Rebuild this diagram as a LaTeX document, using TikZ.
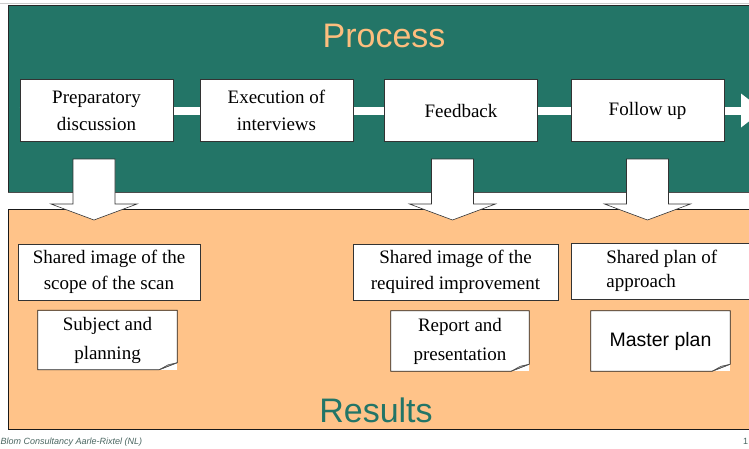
\documentclass[tikz,border=0pt]{standalone}
\usepackage{fontspec}
\setmainfont{Liberation Serif}
\setsansfont{Liberation Sans}
\definecolor{tealbg}{HTML}{237567}
\definecolor{orangebg}{HTML}{FFC389}
\definecolor{proctext}{HTML}{FDBE7E}
\definecolor{footgray}{HTML}{4A6661}
\begin{document}
\begin{tikzpicture}[x=1pt,y=-1pt,
  pbox/.style={draw=black!80, fill=white, line width=0.7pt, minimum width=153pt, minimum height=62pt,
    inner sep=0pt, align=center, font=\fontsize{19}{27}\selectfont},
  rbox/.style={draw=black!80, fill=white, line width=0.7pt, inner sep=0pt, align=center,
    font=\fontsize{19}{26.5}\selectfont},
  notebox/.style={fill=white, minimum width=139pt, minimum height=59pt, inner sep=0pt, align=center,
    font=\fontsize{19}{29}\selectfont},
  downarrow/.style={fill=white, draw=black!80, line width=0.6pt},
  title/.style={font=\sffamily\fontsize{34}{40}\selectfont, inner sep=0pt}
]
\useasboundingbox (0,0) rectangle (749,448);
\clip (0,0) rectangle (749,448);
\fill[white] (0,0) rectangle (749,448);
% top rule
\draw[black!20, line width=0.6pt] (0,3) -- (749,3);
% process panel
\fill[tealbg] (8,5) rectangle (770,193);
\draw[black!85, line width=0.9pt] (770,5) -- (8,5) -- (8,193);
\draw[black!70, line width=1.4pt] (8,192.5) -- (770,192.5);
% results panel
\fill[orangebg] (8,209) rectangle (770,429);
\draw[black!90, line width=0.8pt] (770,209) -- (8,209) -- (8,429) -- (770,429);

\node[title, text=proctext] (proc) at (384,36) {Process};

% process boxes
\node[pbox] (p1) at (96.5,110.5) {Preparatory\\discussion};
\node[pbox] (p2) at (276.5,110.5) {Execution of\\interviews};
\node[pbox] (p3) at (461,110.5) {Feedback};
\node[pbox] (p4) at (647.5,110.5) {Follow up};
\coordinate (hend) at (741,110.5);
% white flow arrow behind the boxes
\draw[white, line width=8pt] (p1.west) -- (p2.west) -- (p3.west) -- (p4.west) -- (hend);
\fill[white] ([yshift=17pt]hend) -- ([xshift=22pt]hend) -- ([yshift=-17pt]hend) -- cycle;
% redraw boxes on top of the shaft
\node[pbox] at (p1) {Preparatory\\discussion};
\node[pbox] at (p2) {Execution of\\interviews};
\node[pbox] at (p3) {Feedback};
\node[pbox] at (p4) {Follow up};

% down block arrows
\coordinate (d1) at (94,159);
\coordinate (d2) at (452.5,159);
\coordinate (d3) at (647.5,159);
\foreach \d in {d1,d2,d3}{
  \draw[downarrow] ([xshift=-21pt]\d) -- ([xshift=21pt]\d) -- ([xshift=21pt,yshift=-45pt]\d)
    -- ([xshift=43pt,yshift=-45pt]\d) -- ([yshift=-61pt]\d) -- ([xshift=-43pt,yshift=-45pt]\d)
    -- ([xshift=-21pt,yshift=-45pt]\d) -- cycle;
}

% result boxes
\node[rbox, minimum width=182pt, minimum height=56pt] (r1) at (109,272) {Shared image of the\\scope of the scan};
\node[rbox, minimum width=205pt, minimum height=56pt] (r2) at (455.5,272) {Shared image of the\\required improvement};
\node[rbox, minimum height=56pt, anchor=west, text width=160pt, align=flush left, inner xsep=35pt,
  font=\fontsize{19}{24.5}\selectfont] (r3) at (571,271) {Shared plan of\\approach};

% notes with folded corner
\node[notebox] (n1) at (107.5,340) {Subject and\\planning};
\node[notebox, minimum width=138pt, minimum height=60pt] (n2) at (460,341) {Report and\\presentation};
\node[notebox, minimum height=60pt, font=\sffamily\fontsize{19.5}{24}\selectfont] (n3) at (660.5,341) {Master plan};
\foreach \n in {n1,n2,n3}{
  \draw[black!85, line width=0.7pt] (\n.north west) -- (\n.north east) -- ([yshift=7pt]\n.south east)
    -- ([xshift=-18pt]\n.south east) -- (\n.south west) -- cycle;
  \draw[black!70, fill=black!30, line width=0.5pt] ([xshift=-18pt]\n.south east) -- ([yshift=7pt]\n.south east)
    -- ([xshift=-9pt,yshift=5pt]\n.south east) -- cycle;
}

\node[title, text=tealbg] (res) at (376,410) {Results};

% footer
\node[anchor=base west, inner sep=0pt, text=footgray, font=\sffamily\itshape\fontsize{9}{10}\selectfont] (foot) at (0.5,444) {Blom Consultancy Aarle-Rixtel (NL)};
\node[anchor=base west, inner sep=0pt, text=footgray, font=\sffamily\fontsize{9}{10}\selectfont] (pg) at (743,444) {1};
\end{tikzpicture}
\end{document}
